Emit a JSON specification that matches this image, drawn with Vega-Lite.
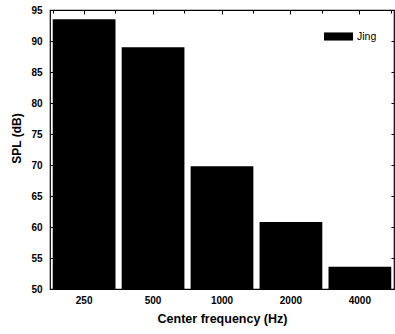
{
  "$schema": "https://vega.github.io/schema/vega-lite/v6.json",
  "autosize": "none",
  "width": 344,
  "height": 279,
  "padding": {"left": 50, "top": 10, "right": 1, "bottom": 45},
  "background": "white",
  "config": {
    "view": {"stroke": "black", "strokeWidth": 1.2},
    "font": "Liberation Sans",
    "axis": {"grid": false, "domain": false, "tickColor": "black", "labelColor": "black", "titleColor": "black", "labelFont": "Liberation Sans", "titleFont": "Liberation Sans", "labelFontWeight": "bold", "titleFontWeight": "bold"}
  },
  "data": {"values": [
    {"freq": "250", "spl": 93.5, "series": "Jing"},
    {"freq": "500", "spl": 89.0, "series": "Jing"},
    {"freq": "1000", "spl": 69.8, "series": "Jing"},
    {"freq": "2000", "spl": 60.8, "series": "Jing"},
    {"freq": "4000", "spl": 53.6, "series": "Jing"}
  ]},
  "layer": [
    {
      "mark": {"type": "bar", "clip": true},
      "encoding": {
        "x": {"field": "freq", "type": "nominal", "sort": null,
              "scale": {"paddingInner": 0.09, "paddingOuter": 0.04},
              "axis": {"orient": "bottom", "labelAngle": 0, "labelFontSize": 10, "tickSize": 0, "labelPadding": 6, "title": "Center frequency (Hz)", "titleFontSize": 12.5, "titlePadding": 7}},
        "y": {"field": "spl", "type": "quantitative",
              "scale": {"domain": [50, 95], "nice": false, "zero": false},
              "axis": {"orient": "left", "values": [50,55,60,65,70,75,80,85,90,95], "labelFontSize": 10, "tickSize": -3, "labelPadding": 11, "title": "SPL (dB)", "titleFontSize": 12, "titlePadding": 7, "titleY": 128}},
        "color": {"field": "series", "type": "nominal",
                  "scale": {"range": ["black"]},
                  "legend": {"title": null, "orient": "none", "legendX": 274, "legendY": 12, "symbolType": "M-1,-0.28H1V0.28H-1Z", "symbolSize": 841, "symbolStrokeWidth": 0, "labelFontSize": 10.5, "labelFont": "Liberation Sans", "labelColor": "black", "labelOffset": 4}}
      }
    },
    {
      "mark": {"type": "bar", "opacity": 0},
      "encoding": {
        "x": {"field": "freq", "type": "nominal", "sort": null,
              "axis": {"orient": "top", "labels": false, "title": null, "tickSize": -4, "tickBand": "center"}},
        "y": {"field": "spl", "type": "quantitative",
              "axis": {"orient": "right", "labels": false, "title": null, "tickSize": -3, "values": [50,55,60,65,70,75,80,85,90,95]}}
      }
    },
    {
      "mark": {"type": "bar", "opacity": 0},
      "encoding": {
        "x": {"field": "freq", "type": "nominal", "sort": null,
              "axis": {"orient": "top", "labels": false, "title": null, "tickSize": -3, "tickBand": "extent"}},
        "y": {"field": "spl", "type": "quantitative", "axis": null}
      }
    }
  ],
  "resolve": {"axis": {"x": "independent", "y": "independent"}}
}
